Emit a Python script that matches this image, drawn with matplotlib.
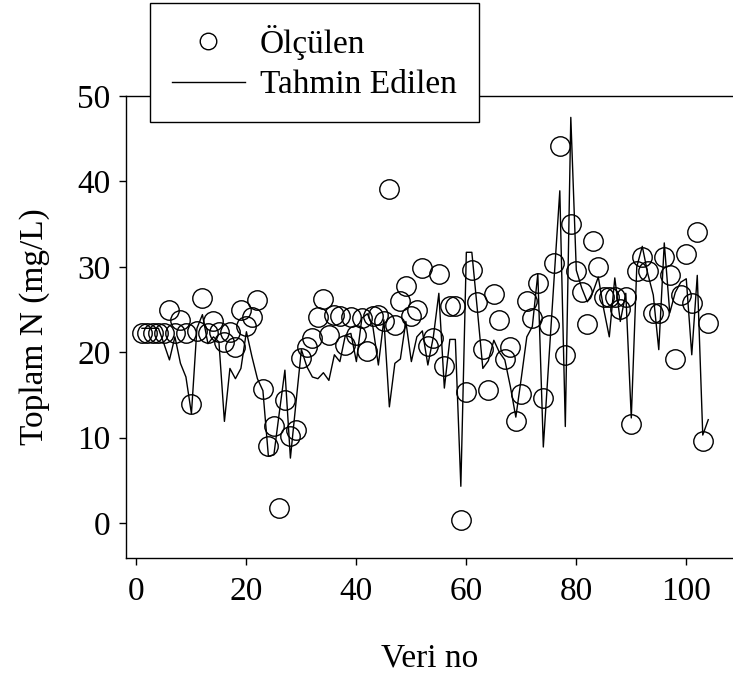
import matplotlib
matplotlib.use("Agg")
import matplotlib.pyplot as plt

# measured and predicted total N for each sample (Veri no 1..104)
veri_no = list(range(1, 105))
olculen = [22.3, 22.3, 22.3, 22.3, 22.3, 25.0, 22.3, 23.8, 22.3, 13.9,
           22.5, 26.3, 22.2, 23.7, 22.4, 21.2, 22.4, 20.6, 25.0, 23.1,
           24.1, 26.1, 15.7, 9.0, 11.4, 1.8, 14.4, 10.2, 10.9, 19.3,
           20.6, 21.7, 24.1, 26.2, 22.0, 24.3, 24.2, 20.8, 24.1, 22.0,
           24.0, 20.2, 24.2, 24.3, 23.7, 39.1, 23.2, 26.0, 27.7, 24.2,
           25.0, 29.9, 20.7, 21.7, 29.2, 18.4, 25.4, 25.4, 0.4, 15.3,
           29.6, 25.9, 20.4, 15.6, 26.8, 23.8, 19.2, 20.6, 12.0, 15.1,
           26.0, 24.0, 28.1, 14.6, 23.2, 30.4, 44.2, 19.7, 35.0, 29.5,
           27.0, 23.3, 33.0, 30.0, 26.5, 26.5, 26.5, 25.1, 26.5, 11.6,
           29.5, 31.2, 29.5, 24.6, 24.6, 31.2, 29.0, 19.2, 26.7, 31.5,
           25.8, 34.1, 9.6, 23.4]
tahmin = [22.8, 22.8, 22.8, 22.8, 21.0, 19.1, 21.8, 18.7, 17.1, 12.8,
          22.8, 24.4, 21.0, 21.8, 21.2, 11.9, 18.1, 16.9, 18.1, 22.4,
          19.5, 16.9, 15.5, 7.8, 8.0, 13.0, 17.9, 7.6, 14.0, 20.3,
          18.3, 17.1, 16.9, 17.6, 16.7, 19.7, 18.9, 22.0, 22.2, 18.9,
          24.0, 24.5, 23.0, 18.5, 23.8, 13.6, 18.7, 19.2, 23.6, 18.9,
          21.8, 22.5, 18.5, 21.8, 26.9, 15.8, 21.5, 21.5, 4.3, 31.7,
          31.7, 25.0, 18.1, 19.0, 21.4, 20.0, 19.1, 16.0, 12.4, 17.0,
          21.8, 23.0, 29.2, 8.9, 19.0, 29.0, 38.9, 11.3, 47.5, 29.6,
          27.5, 25.9, 27.0, 28.8, 25.0, 21.8, 28.7, 23.6, 26.9, 12.3,
          30.0, 32.4, 29.2, 26.7, 20.3, 32.8, 24.6, 27.0, 28.2, 28.6,
          19.7, 29.0, 10.3, 12.1]

x_ticks = [0, 20, 40, 60, 80, 100]
y_ticks = [0, 10, 20, 30, 40, 50]

plt.rcParams['font.family'] = ['Liberation Serif', 'DejaVu Serif']

fig = plt.figure(figsize=(7.33, 6.84), dpi=100)
ax = fig.add_axes([0.1719, 0.1842, 0.8281, 0.6754])

ax.plot(veri_no, olculen, "o", markersize=14, markerfacecolor="none",
        markeredgecolor="k", markeredgewidth=1.0, label="Ölçülen", zorder=3)
ax.plot(veri_no, tahmin, "-", color="k", linewidth=1.0,
        label="Tahmin Edilen", zorder=2)

ax.set_xlim(-1.9, 108.5)
ax.set_ylim(-4.1, 50)
ax.set_xticks(x_ticks)
ax.set_yticks(y_ticks)
ax.tick_params(direction="out", length=5, width=1.0, labelsize=24)
ax.tick_params(axis="x", pad=8)
ax.tick_params(axis="y", pad=6)
ax.spines["right"].set_visible(False)
for s in ["left", "bottom", "top"]:
    ax.spines[s].set_linewidth(1.0)

ax.set_xlabel("Veri no", fontsize=24, labelpad=26)
ax.set_ylabel("Toplam N (mg/L)", fontsize=24, labelpad=20)

# legend box sits over the top spine, partly above the axes
leg = ax.legend(loc="upper left", bbox_to_anchor=(150 / 733, 1 - 3 / 684),
                bbox_transform=fig.transFigure, fontsize=24, frameon=True,
                fancybox=False, edgecolor="k", framealpha=1, markerscale=0.85,
                handlelength=2.2, handletextpad=0.45, borderpad=0.65,
                labelspacing=0.3, borderaxespad=0)
leg.get_frame().set_linewidth(1.0)

fig.savefig("out.png", dpi=100)
